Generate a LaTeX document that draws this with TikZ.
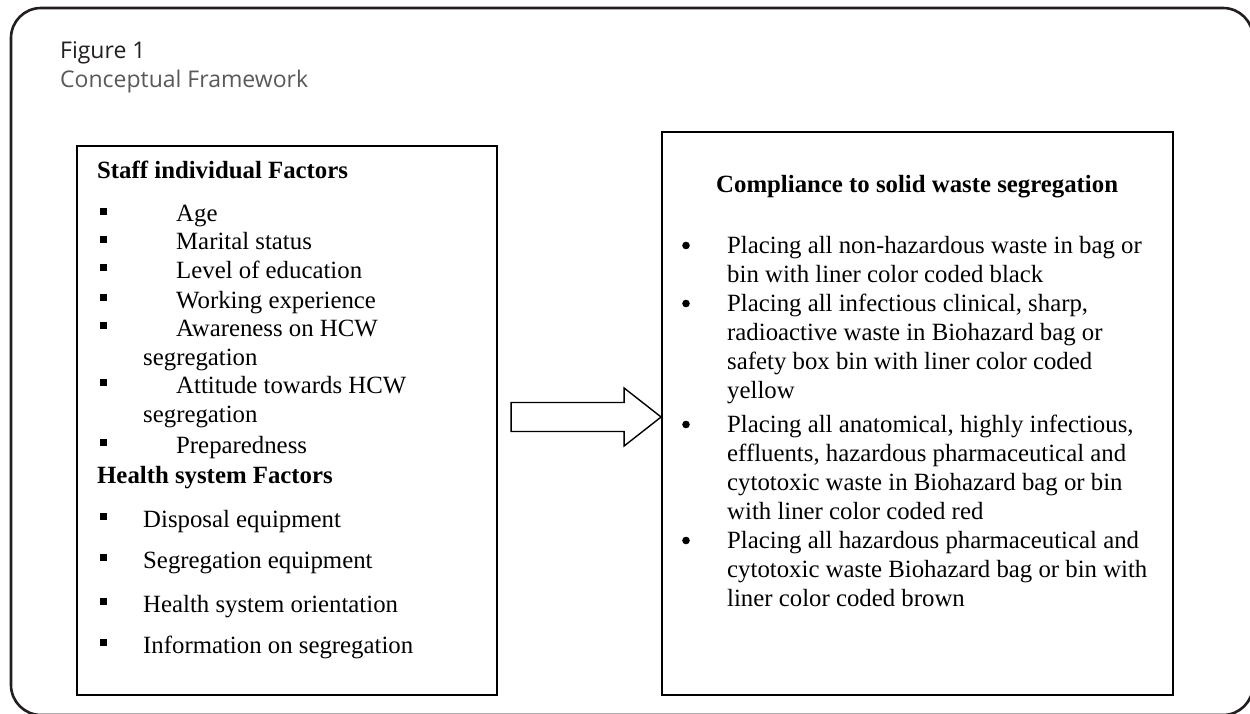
\documentclass[tikz,border=0pt]{standalone}
\usepackage{fontspec}
\setmainfont{Liberation Serif}
\newfontfamily\capfont{Open Sans}
\usetikzlibrary{calc}
\definecolor{framec}{HTML}{231F20}
\definecolor{subc}{HTML}{58595B}
\tikzset{
  txt/.style={anchor=base west, inner sep=0pt, font=\fontsize{24.8}{28.6}\selectfont},
  btxt/.style={txt, font=\fontsize{24.8}{28.6}\selectfont\bfseries},
  boxc/.style={draw=black, line width=1.8pt, inner sep=0pt},
  arrowline/.style={draw=black, line width=1.4pt, line join=miter},
  sqb/.style={fill=black},
  rdb/.style={fill=black}
}
\newcommand{\sqbul}[1]{\fill[sqb] (99.5,#1-14) rectangle (106.5,#1-7);}
\newcommand{\rdbul}[1]{\fill[rdb] (686,#1-7.5) circle (3.8);}
\begin{document}
\begin{tikzpicture}[x=1pt,y=-1pt]
\useasboundingbox (0,0) rectangle (1250,714);
\fill[white] (0,0) rectangle (1250,714);
% outer frame
\draw[framec, line width=2.6pt, rounded corners=30pt] (11,8) rectangle (1253,715);
% titles
\node[anchor=base west, inner sep=0pt, font=\capfont\fontsize{23}{27}\selectfont, text=framec] (fig) at (60,59) {Figure 1};
\node[anchor=base west, inner sep=0pt, font=\capfont\fontsize{23}{27}\selectfont, text=subc] (sub) at (60,88) {Conceptual Framework};
% boxes
\node[boxc, minimum width=420pt, minimum height=549pt] (lbox) at (287,420.5) {};
\node[boxc, minimum width=511pt, minimum height=563pt] (rbox) at (917.5,413.5) {};
% left box text
\node[btxt] (lh1) at (97,179) {Staff individual Factors};
\node[txt] (l1) at (176,222) {Age};
\node[txt] (l2) at (176,250) {Marital status};
\node[txt] (l3) at (176,278) {Level of education};
\node[txt] (l4) at (176,308) {Working experience};
\node[txt] (l5) at (176,336) {Awareness on HCW};
\node[txt] (l5b) at (143,365) {segregation};
\node[txt] (l6) at (176,393) {Attitude towards HCW};
\node[txt] (l6b) at (143,422) {segregation};
\node[txt] (l7) at (176,453) {Preparedness};
\node[btxt] (lh2) at (97,483) {Health system Factors};
\node[txt] (m1) at (143,527) {Disposal equipment};
\node[txt] (m2) at (143,568) {Segregation equipment};
\node[txt] (m3) at (143,612) {Health system orientation};
\node[txt] (m4) at (143,653) {Information on segregation};
\sqbul{222}\sqbul{250}\sqbul{278}\sqbul{308}\sqbul{336}\sqbul{393}\sqbul{453}
\sqbul{527}\sqbul{568}\sqbul{612}\sqbul{653}
% right box text
\node[btxt] (rh) at (716,193) {Compliance to solid waste segregation};
\node[txt] (r1) at (727,253) {Placing all non-hazardous waste in bag or};
\node[txt] (r2) at (727,282) {bin with liner color coded black};
\node[txt] (r3) at (727,311) {Placing all infectious clinical, sharp,};
\node[txt] (r4) at (727,340) {radioactive waste in Biohazard bag or};
\node[txt] (r5) at (727,369) {safety box bin with liner color coded};
\node[txt] (r6) at (727,398) {yellow};
\node[txt] (r7) at (727,432) {Placing all anatomical, highly infectious,};
\node[txt] (r8) at (727,461) {effluents, hazardous pharmaceutical and};
\node[txt] (r9) at (727,490) {cytotoxic waste in Biohazard bag or bin};
\node[txt] (r10) at (727,519) {with liner color coded red};
\node[txt] (r11) at (727,548) {Placing all hazardous pharmaceutical and};
\node[txt] (r12) at (727,577) {cytotoxic waste Biohazard bag or bin with};
\node[txt] (r13) at (727,606) {liner color coded brown};
\rdbul{253}\rdbul{311}\rdbul{432}\rdbul{548}
% block arrow
\coordinate (tip) at ($(rbox.west)+(0,3.5)$);
\draw[arrowline] ($(tip)+(-150,-14.5)$) -- ($(tip)+(-37,-14.5)$) -- ($(tip)+(-37,-29)$) -- (tip)
  -- ($(tip)+(-37,29)$) -- ($(tip)+(-37,14.5)$) -- ($(tip)+(-150,14.5)$) -- cycle;
\end{tikzpicture}
\end{document}
